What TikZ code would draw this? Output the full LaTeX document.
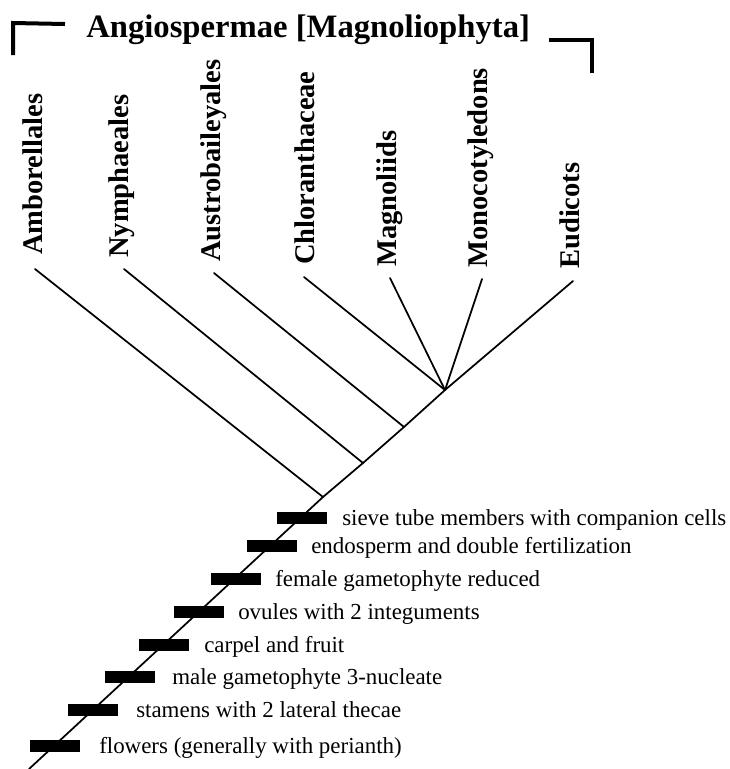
\documentclass[tikz,border=0pt]{standalone}
\usepackage{fontspec}
\setmainfont{Liberation Serif}
\usetikzlibrary{positioning}

\begin{document}
\begin{tikzpicture}[x=0.75pt, y=-0.75pt,
  br/.style={line width=1.3pt, black, line cap=round},
  clamp/.style={line width=3pt, black},
  tx/.style={rotate=90, anchor=west, inner sep=0pt, font=\bfseries\fontsize{21.4}{24}\selectfont},
  bar/.style={rectangle, fill=black, inner sep=0pt, minimum width=37.5pt, minimum height=8.4pt},
  ch/.style={anchor=base west, inner sep=0pt, font=\fontsize{17.2}{20}\selectfont}]
\useasboundingbox (0,0) rectangle (730,769);
% title and bracket
\node[anchor=base west, inner sep=0pt, font=\bfseries\fontsize{24.5}{28}\selectfont] (ttl) at (86,37) {Angiospermae [Magnoliophyta]};
\draw[clamp] (65,24) -- (13,23) -- (13,55);
\draw[clamp] (549,40) -- (592,40) -- (592,73);
% taxa
\node[tx] (amb) at (33,255) {Amborellales};
\node[tx] (nym) at (122,258) {Nymphaeales};
\node[tx] (aus) at (214,262) {Austrobaileyales};
\node[tx] (chl) at (305,265) {Chloranthaceae};
\node[tx] (mag) at (390,267) {Magnoliids};
\node[tx] (mon) at (481,268) {Monocotyledons};
\node[tx] (eud) at (570,269) {Eudicots};
\coordinate (tamb) at (35,269);
\coordinate (tnym) at (124,269);
\coordinate (taus) at (214,273);
\coordinate (tchl) at (304,277);
\coordinate (tmag) at (390,278);
\coordinate (tmon) at (482,279);
\coordinate (teud) at (573,281);
% branching points
\coordinate (n0) at (323,497);
\coordinate (n1) at (363,463);
\coordinate (n2) at (404,427);
\coordinate (n3) at (445,390);
\coordinate (base) at (29,769);
\draw[br] (base) -- (n0) -- (n1) -- (n2) -- (n3) -- (teud);
\draw[br] (tamb) -- (n0);
\draw[br] (tnym) -- (n1);
\draw[br] (taus) -- (n2);
\draw[br] (tchl) -- (n3);
\draw[br] (tmag) -- (n3);
\draw[br] (tmon) -- (n3);
% characters on the stem
\node[bar] (b1) at (302,518) {};
\node[bar] (b2) at (272,546) {};
\node[bar] (b3) at (236,579) {};
\node[bar] (b4) at (199,612) {};
\node[bar] (b5) at (164,645) {};
\node[bar] (b6) at (130,677) {};
\node[bar] (b7) at (93,710) {};
\node[bar] (b8) at (55,746) {};
\node[ch] (c1) at (342,525) {sieve tube members with companion cells};
\node[ch] (c2) at (311,553) {endosperm and double fertilization};
\node[ch] (c3) at (275,586) {female gametophyte reduced};
\node[ch] (c4) at (238,619) {ovules with 2 integuments};
\node[ch] (c5) at (204,652) {carpel and fruit};
\node[ch] (c6) at (172,684) {male gametophyte 3-nucleate};
\node[ch] (c7) at (136,717) {stamens with 2 lateral thecae};
\node[ch] (c8) at (99,753) {flowers (generally with perianth)};
\end{tikzpicture}
\end{document}
